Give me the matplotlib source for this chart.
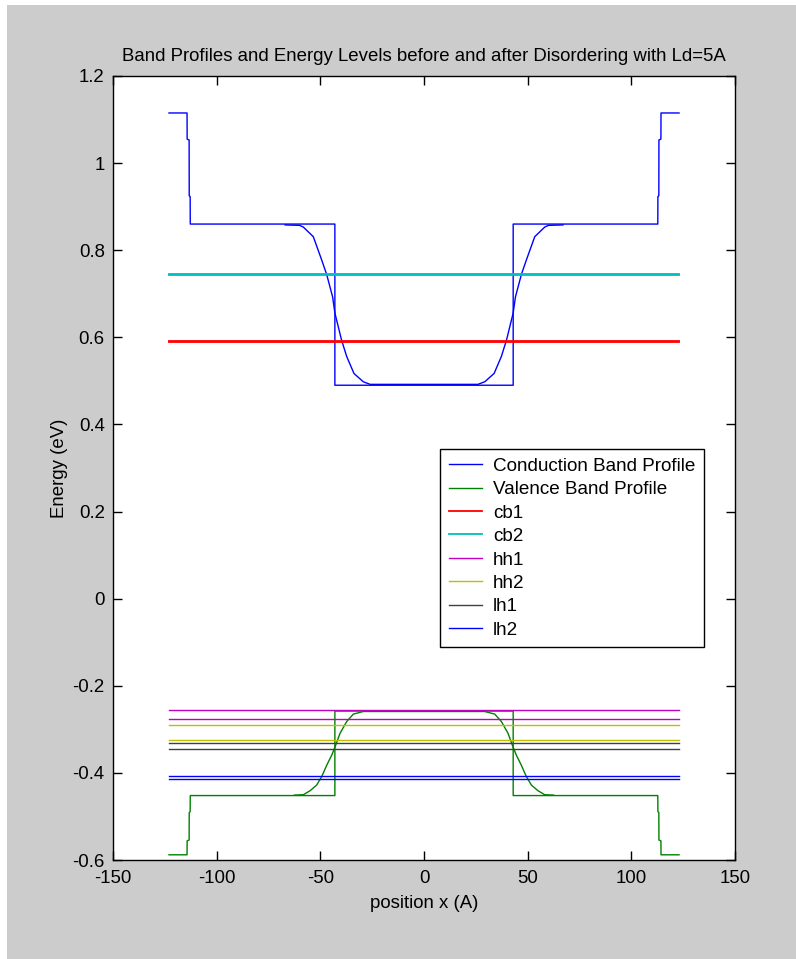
import matplotlib
matplotlib.use("Agg")

import matplotlib.pyplot as plt
from matplotlib.patches import Rectangle
from matplotlib.ticker import FuncFormatter

# band profiles before disordering (square well)
x_sq = [-123, -114.3, -114.25, -113.3, -113.25, -112.8, -112.75, -43, -43, 43, 43,
	112.75, 112.8, 113.25, 113.3, 114.25, 114.3, 123]
cb_sq = [1.115, 1.115, 1.055, 1.053, 0.925, 0.923, 0.86, 0.86, 0.49, 0.49, 0.86,
	0.86, 0.923, 0.925, 1.053, 1.055, 1.115, 1.115]
vb_sq = [-0.588, -0.588, -0.556, -0.554, -0.491, -0.489, -0.452, -0.452, -0.258, -0.258, -0.452,
	-0.452, -0.489, -0.491, -0.554, -0.556, -0.588, -0.588]

# band profiles after disordering
x_cb_dis = [-67, -60, -58.2, -53.4, -49.4, -47.0, -44.1, -43.0, -39.8, -37.3,
	-33.8, -29.3, -26, -20, 20, 26, 29.3, 33.8, 37.3, 39.8, 43.0, 44.1,
	47.0, 49.4, 53.4, 58.2, 60, 67]
cb_dis = [0.858, 0.857, 0.853, 0.831, 0.778, 0.745, 0.693, 0.656, 0.594, 0.556,
	0.517, 0.498, 0.492, 0.492, 0.492, 0.492, 0.498, 0.517, 0.556, 0.594, 0.656, 0.693,
	0.745, 0.778, 0.831, 0.853, 0.857, 0.858]
x_vb_dis = [-62.5, -58.2, -55.0, -51.8, -49.3, -46.9, -44.5, -42.9, -40.5, -37.3,
	-34.1, -29.3, -25, 25, 29.3, 34.1, 37.3, 40.5, 42.9, 44.5, 46.9, 49.3,
	51.8, 55.0, 58.2, 62.5]
vb_dis = [-0.451, -0.450, -0.441, -0.428, -0.408, -0.382, -0.359, -0.340, -0.309, -0.282,
	-0.265, -0.259, -0.259, -0.259, -0.259, -0.265, -0.282, -0.309, -0.340, -0.359, -0.382, -0.408,
	-0.428, -0.441, -0.450, -0.451]

# energy levels (before, after)
level_x = [-123, 123]
level_names = ["cb1", "cb2", "hh1", "hh2", "lh1", "lh2"]
level_vals = [
	[0.589, 0.591],
	[0.744, 0.746],
	[-0.2555, -0.2768],
	[-0.2907, -0.3236],
	[-0.3304, -0.345],
	[-0.4063, -0.4132],
]
level_colors = [(1, 0, 0), (0, 0.75, 0.75), (0.75, 0, 0.75),
	(0.75, 0.75, 0), (0.25, 0.25, 0.25), (0, 0, 1)]

xticks = [-150, -100, -50, 0, 50, 100, 150]
yticks = [-0.6, -0.4, -0.2, 0, 0.2, 0.4, 0.6, 0.8, 1.0, 1.2]

plt.rcParams["font.family"] = ["Liberation Sans", "DejaVu Sans"]
plt.rcParams["font.size"] = 13.4
plt.rcParams["axes.unicode_minus"] = False

fig = plt.figure(figsize=(7.96, 9.59), dpi=100)
fig.patch.set_facecolor("white")
fig.patches.append(Rectangle((7 / 796, 0), 1 - 7 / 796, 954 / 959,
	transform=fig.transFigure, facecolor="#cccccc", edgecolor="none", zorder=-10))

ax = fig.add_axes([0.142, 0.1032, 0.7814, 0.8176])
ax.set_facecolor("white")

blue = (0, 0, 1)
green = (0, 0.5, 0)
ax.plot(x_sq, cb_sq, color=blue, lw=1.0, label="Conduction Band Profile")
ax.plot(x_cb_dis, cb_dis, color=blue, lw=1.0)
ax.plot(x_sq, vb_sq, color=green, lw=1.0, label="Valence Band Profile")
ax.plot(x_vb_dis, vb_dis, color=green, lw=1.0)

for name, vals, c in zip(level_names, level_vals, level_colors):
	thick = 1.3 if name.startswith("cb") else 1.0
	ax.plot(level_x, [vals[0], vals[0]], color=c, lw=thick, label=name)
	ax.plot(level_x, [vals[1], vals[1]], color=c, lw=thick)

ax.set_xlim(-150, 150)
ax.set_ylim(-0.6, 1.2)
ax.set_xticks(xticks)
ax.set_yticks(yticks)
ax.yaxis.set_major_formatter(FuncFormatter(lambda v, p: "%g" % round(v, 2)))
ax.tick_params(direction="in", length=6.5, width=1, top=True, right=True,
	labelsize=13.4)
ax.tick_params(axis="x", pad=7)
ax.tick_params(axis="y", pad=6)
for s in ax.spines.values():
	s.set_linewidth(1.0)
	s.set_color("black")

ax.set_title("Band Profiles and Energy Levels before and after Disordering with Ld=5A",
	fontsize=13.4, pad=11)
ax.set_xlabel("position x (A)", fontsize=13.4, labelpad=6)
ax.set_ylabel("Energy (eV)", fontsize=13.4, labelpad=3)

leg = ax.legend(loc="upper left", bbox_to_anchor=(0.5257, 0.5242),
	borderaxespad=0, fancybox=False, framealpha=1, edgecolor="black",
	handlelength=1.75, handletextpad=0.6, labelspacing=0.33, borderpad=0.45,
	fontsize=13.6)
leg.get_frame().set_linewidth(1.0)

plt.savefig("out.png", dpi=100, facecolor=fig.get_facecolor())
